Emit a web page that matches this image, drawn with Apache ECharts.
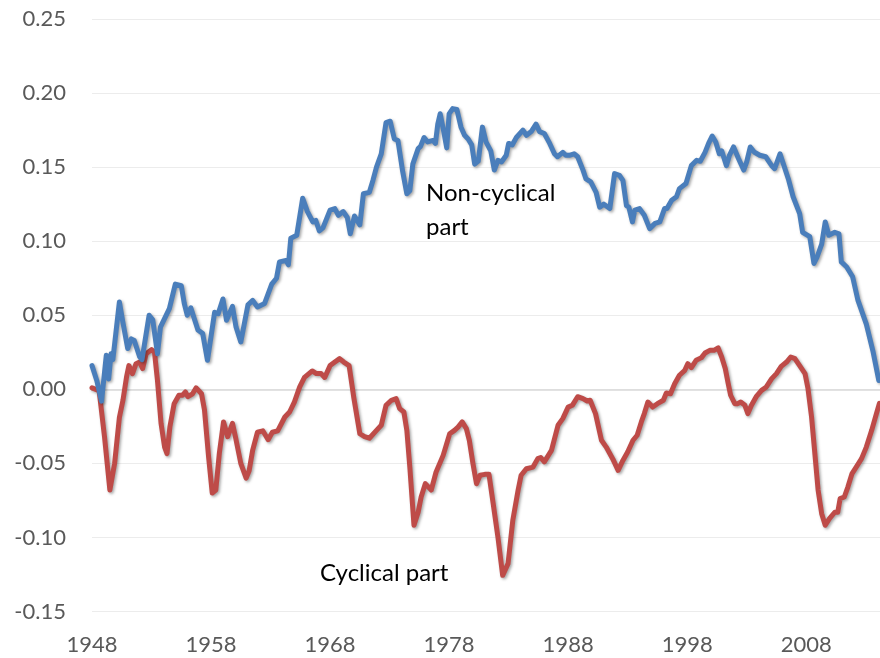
<!DOCTYPE html>
<html>
<head>
<meta charset="utf-8">
<title>Cyclical and non-cyclical part</title>
<script src="https://cdn.jsdelivr.net/npm/echarts@6/dist/echarts.min.js"></script>
<style>
    html, body { margin: 0; padding: 0; background: #fff; }
    #chart { width: 880px; height: 658px; }
</style>
</head>
<body>
<div id="chart"></div>
<script>
// non-cyclical part (blue)
const blueYears = [
    1948.0, 1948.4, 1948.8, 1949.2, 1949.4, 1949.6, 1949.75, 1950.3, 1950.6, 1951.0,
    1951.3, 1951.55, 1952.0, 1952.2, 1952.8, 1953.1, 1953.5, 1953.75, 1954.5, 1955.0,
    1955.5, 1955.75, 1956.0, 1956.3, 1956.5, 1956.9, 1957.3, 1957.7, 1958.3, 1958.6,
    1959.0, 1959.3, 1959.8, 1960.1, 1960.5, 1961.1, 1961.5, 1961.9, 1962.5, 1963.1,
    1963.5, 1963.75, 1964.3, 1964.5, 1964.7, 1965.2, 1965.7, 1966.1, 1966.55, 1966.8,
    1967.1, 1967.4, 1968.0, 1968.4, 1968.7, 1969.1, 1969.45, 1969.7, 1970.05, 1970.5,
    1970.8, 1971.3, 1971.6, 1971.9, 1972.3, 1972.7, 1973.05, 1973.4, 1973.7, 1974.1,
    1974.45, 1974.7, 1974.95, 1975.4, 1975.6, 1975.9, 1976.2, 1976.65, 1976.85, 1977.05,
    1977.25, 1977.55, 1977.8, 1978.0, 1978.3, 1978.65, 1979.0, 1979.3, 1979.6, 1979.9,
    1980.15, 1980.45, 1980.8, 1981.1, 1981.5, 1981.8, 1982.1, 1982.4, 1982.8, 1983.0,
    1983.3, 1983.65, 1984.2, 1984.5, 1984.9, 1985.3, 1985.6, 1986.0, 1986.45, 1986.85,
    1987.1, 1987.55, 1987.8, 1988.1, 1988.5, 1988.8, 1989.25, 1989.5, 1989.9, 1990.35,
    1990.65, 1991.0, 1991.5, 1991.9, 1992.3, 1992.6, 1992.9, 1993.1, 1993.4, 1993.6,
    1994.0, 1994.4, 1994.85, 1995.3, 1995.7, 1996.1, 1996.3, 1996.7, 1997.1, 1997.35,
    1997.9, 1998.35, 1998.8, 1999.1, 1999.5, 1999.8, 2000.1, 2000.4, 2000.7, 2000.9,
    2001.3, 2001.55, 2001.9, 2002.3, 2002.75, 2003.0, 2003.3, 2003.65, 2004.1, 2004.6,
    2005.1, 2005.35, 2005.8, 2006.5, 2006.9, 2007.45, 2007.7, 2008.3, 2008.65, 2008.9,
    2009.3, 2009.6, 2009.9, 2010.4, 2010.75, 2010.95, 2011.4, 2011.9, 2012.35, 2013.05,
    2013.6, 2014.1
];
const blueValues = [
    0.016, 0.006, -0.008, 0.023, 0.007, 0.024, 0.020, 0.059, 0.045, 0.0275,
    0.034, 0.033, 0.022, 0.020, 0.050, 0.047, 0.024, 0.042, 0.0545, 0.071,
    0.070, 0.058, 0.050, 0.055, 0.050, 0.040, 0.0376, 0.0196, 0.052, 0.051,
    0.061, 0.0466, 0.056, 0.042, 0.032, 0.057, 0.060, 0.0556, 0.058, 0.071,
    0.075, 0.086, 0.087, 0.084, 0.102, 0.104, 0.129, 0.120, 0.113, 0.114,
    0.107, 0.109, 0.121, 0.122, 0.1175, 0.120, 0.116, 0.105, 0.117, 0.111,
    0.132, 0.133, 0.141, 0.150, 0.159, 0.180, 0.181, 0.169, 0.168, 0.147,
    0.132, 0.134, 0.152, 0.1625, 0.164, 0.170, 0.167, 0.168, 0.166, 0.179,
    0.186, 0.174, 0.163, 0.186, 0.1895, 0.189, 0.177, 0.1715, 0.169, 0.165,
    0.152, 0.154, 0.177, 0.167, 0.161, 0.148, 0.1546, 0.1535, 0.158, 0.166,
    0.165, 0.170, 0.175, 0.1715, 0.174, 0.179, 0.174, 0.1727, 0.166, 0.159,
    0.157, 0.160, 0.158, 0.158, 0.159, 0.157, 0.148, 0.142, 0.140, 0.133,
    0.123, 0.125, 0.122, 0.1456, 0.1445, 0.141, 0.124, 0.123, 0.113, 0.121,
    0.122, 0.1175, 0.1085, 0.112, 0.113, 0.122, 0.122, 0.1276, 0.130, 0.1355,
    0.139, 0.151, 0.1546, 0.154, 0.160, 0.166, 0.171, 0.167, 0.159, 0.161,
    0.151, 0.158, 0.1636, 0.156, 0.148, 0.1535, 0.1636, 0.160, 0.158, 0.157,
    0.151, 0.149, 0.159, 0.142, 0.130, 0.1186, 0.106, 0.103, 0.085, 0.089,
    0.098, 0.113, 0.104, 0.106, 0.105, 0.086, 0.0826, 0.076, 0.060, 0.044,
    0.026, 0.006
];

// cyclical part (red)
const redYears = [
    1948.0, 1948.6, 1949.05, 1949.5, 1949.9, 1950.3, 1950.6, 1950.9, 1951.1, 1951.4,
    1951.7, 1952.0, 1952.25, 1952.55, 1953.0, 1953.25, 1953.5, 1953.8, 1954.1, 1954.3,
    1954.55, 1954.9, 1955.3, 1955.6, 1955.85, 1956.05, 1956.45, 1956.75, 1957.2, 1957.45,
    1957.8, 1958.1, 1958.4, 1958.7, 1959.05, 1959.4, 1959.8, 1960.05, 1960.5, 1960.95,
    1961.2, 1961.5, 1961.9, 1962.35, 1962.8, 1963.15, 1963.6, 1964.2, 1964.6, 1965.0,
    1965.45, 1965.85, 1966.5, 1966.85, 1967.25, 1967.55, 1968.0, 1968.4, 1968.8, 1969.15,
    1969.6, 1970.0, 1970.5, 1970.9, 1971.3, 1971.9, 1972.3, 1972.7, 1973.15, 1973.55,
    1973.85, 1974.2, 1974.45, 1974.7, 1975.05, 1975.4, 1975.65, 1976.0, 1976.5, 1976.9,
    1977.5, 1978.05, 1978.45, 1978.75, 1979.1, 1979.45, 1979.7, 1980.0, 1980.3, 1980.6,
    1981.0, 1981.35, 1981.7, 1982.1, 1982.5, 1982.95, 1983.35, 1983.8, 1984.05, 1984.5,
    1985.05, 1985.45, 1985.7, 1986.0, 1986.6, 1987.15, 1987.55, 1988.0, 1988.35, 1988.8,
    1989.25, 1989.6, 1989.85, 1990.3, 1990.8, 1991.2, 1991.75, 1992.2, 1992.6, 1993.0,
    1993.45, 1993.8, 1994.15, 1994.4, 1994.7, 1995.1, 1995.5, 1996.0, 1996.25, 1996.6,
    1996.95, 1997.35, 1997.8, 1998.05, 1998.35, 1998.75, 1999.2, 1999.5, 1999.9, 2000.25,
    2000.6, 2000.9, 2001.2, 2001.45, 2001.65, 2002.0, 2002.25, 2002.5, 2002.85, 2003.1,
    2003.4, 2003.8, 2004.25, 2004.65, 2005.1, 2005.5, 2005.9, 2006.35, 2006.7, 2007.05,
    2007.45, 2007.9, 2008.15, 2008.45, 2008.7, 2009.0, 2009.3, 2009.6, 2009.95, 2010.4,
    2010.65, 2010.85, 2011.2, 2011.5, 2011.85, 2012.2, 2012.65, 2013.05, 2013.5, 2013.9,
    2014.15
];
const redValues = [
    0.001, -0.001, -0.032, -0.068, -0.050, -0.019, -0.0074, 0.0083, 0.016, 0.0106,
    0.0173, 0.0184, 0.014, 0.024, 0.0268, 0.025, 0.006, -0.023, -0.039, -0.0434,
    -0.025, -0.0097, -0.004, -0.004, -0.0018, -0.005, -0.003, 0.001, -0.003, -0.014,
    -0.046, -0.070, -0.068, -0.043, -0.022, -0.032, -0.023, -0.032, -0.050, -0.060,
    -0.055, -0.041, -0.029, -0.028, -0.034, -0.029, -0.028, -0.0187, -0.0153, -0.0086,
    0.0016, 0.008, 0.0124, 0.0106, 0.0106, 0.008, 0.016, 0.0184, 0.0207, 0.0184,
    0.016, -0.006, -0.030, -0.032, -0.033, -0.0277, -0.0243, -0.0108, -0.0074, -0.0063,
    -0.013, -0.0153, -0.0277, -0.0525, -0.0918, -0.083, -0.0727, -0.0637, -0.068, -0.056,
    -0.0446, -0.030, -0.0277, -0.0255, -0.022, -0.0265, -0.0344, -0.050, -0.0637, -0.058,
    -0.0574, -0.0574, -0.077, -0.0997, -0.1256, -0.1177, -0.0885, -0.068, -0.058, -0.0536,
    -0.0525, -0.0468, -0.046, -0.049, -0.0412, -0.0243, -0.0198, -0.012, -0.0108, -0.005,
    -0.0063, -0.0079, -0.0074, -0.0164, -0.0344, -0.039, -0.047, -0.0547, -0.048, -0.0423,
    -0.0344, -0.031, -0.022, -0.0164, -0.0086, -0.012, -0.0097, -0.0074, -0.0025, -0.003,
    0.0038, 0.0095, 0.0128, 0.0173, 0.0146, 0.0196, 0.0214, 0.0245, 0.0263, 0.0263,
    0.028, 0.0218, 0.014, 0.0038, -0.004, -0.0097, -0.0097, -0.0086, -0.0108, -0.0164,
    -0.0108, -0.005, -0.0007, 0.0016, 0.0072, 0.0106, 0.0155, 0.0184, 0.0218, 0.0207,
    0.016, 0.0106, 0.0005, -0.0187, -0.041, -0.068, -0.084, -0.0918, -0.0873, -0.083,
    -0.083, -0.0738, -0.0727, -0.066, -0.0569, -0.0525, -0.0468, -0.039, -0.0277, -0.0164,
    -0.0095
];

const xTickStart = 1948;      // first year label
const xTickStep = 10;
const xEnd = 2014.2;
const labelNames = ["Non-cyclical\npart", "Cyclical part"];

const FONT = "Lato, 'Open Sans', sans-serif";
const pairs = (xs, ys) => xs.map((x, i) => [x, ys[i]]);

// line series with the soft shadow of the original
function lineSeries(name, color, data) {
    return {
        name: name,
        type: "line",
        data: data,
        symbol: "none",
        smooth: false,
        lineStyle: {
            color: color,
            width: 5,
            cap: "round",
            join: "round",
            shadowColor: "rgba(0,0,0,0.35)",
            shadowBlur: 3,
            shadowOffsetX: 1.5,
            shadowOffsetY: 1.5
        },
        z: name === "blue" ? 3 : 2
    };
}

const chart = echarts.init(document.getElementById("chart"), null, {renderer: "canvas"});
chart.setOption({
    animation: false,
    backgroundColor: "#ffffff",
    grid: {left: 92, right: 0, top: 19, bottom: 46.5},
    xAxis: {
        type: "value",
        min: xTickStart,
        max: xEnd,
        interval: xTickStep,
        axisLine: {show: true, lineStyle: {color: "#d9d9d9", width: 1.5}},
        axisTick: {show: false},
        splitLine: {show: false},
        axisLabel: {
            show: true,
            margin: 22,
            fontSize: 22,
            fontFamily: FONT,
            color: "#595959",
            showMaxLabel: false,
            formatter: (v) => ((v - xTickStart) % xTickStep === 0 ? String(v) : "")
        }
    },
    yAxis: {
        type: "value",
        min: -0.15,
        max: 0.25,
        interval: 0.05,
        axisLine: {show: false},
        axisTick: {show: false},
        splitLine: {show: true, lineStyle: {color: "#ececec", width: 1}},
        axisLabel: {
            margin: 26,
            fontSize: 22,
            fontFamily: FONT,
            color: "#595959",
            formatter: (v) => v.toFixed(2)
        }
    },
    graphic: [
        {
            type: "text",
            left: 426,
            top: 176,
            style: {text: labelNames[0], font: "24px " + FONT, fill: "#000", lineHeight: 34}
        },
        {
            type: "text",
            left: 320,
            top: 556,
            style: {text: labelNames[1], font: "24px " + FONT, fill: "#000", lineHeight: 34}
        }
    ],
    series: [
        lineSeries("red", "#be4b48", pairs(redYears, redValues)),
        lineSeries("blue", "#4a7ebb", pairs(blueYears, blueValues))
    ]
});
</script>
</body>
</html>
